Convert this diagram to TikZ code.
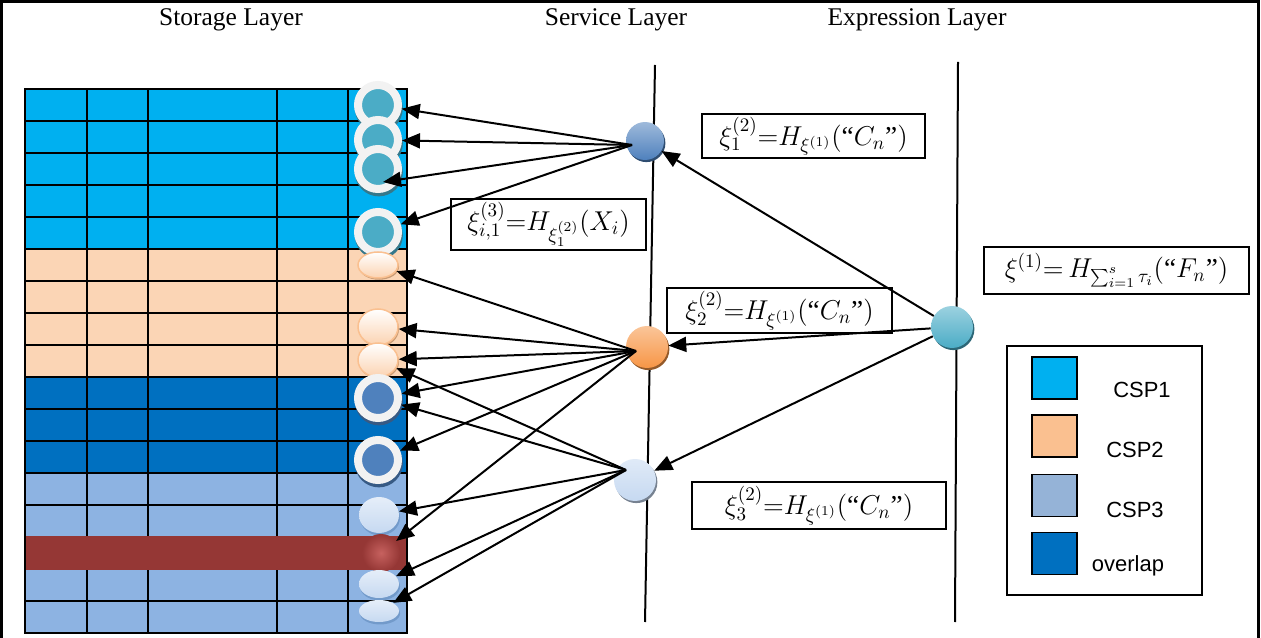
\documentclass[tikz,border=0pt]{standalone}
\usepackage{fix-cm}
\usepackage{fontspec}
\setmainfont{Liberation Serif}
\newfontfamily\legendfont{Liberation Sans}
\usetikzlibrary{arrows.meta,shapes.geometric,shadows,calc}

\definecolor{cspone}{HTML}{00B0F0}
\definecolor{csptwo}{HTML}{FBD5B5}
\definecolor{csptwokey}{HTML}{FAC090}
\definecolor{cspthree}{HTML}{8DB3E2}
\definecolor{cspthreekey}{HTML}{95B3D7}
\definecolor{overlap}{HTML}{0070C0}
\definecolor{redrow}{HTML}{953735}
\definecolor{ringwhite}{HTML}{F2F2F2}
\definecolor{tealball}{HTML}{4BACC6}
\definecolor{blueball}{HTML}{4F81BD}
\definecolor{paleball}{HTML}{C6D9F1}
\definecolor{orangeball}{HTML}{F79646}
\definecolor{redball}{HTML}{C0504D}

\tikzset{
  link/.style={line width=0.4mm, -{Triangle[length=3.6mm,width=3mm]}},
  layertitle/.style={font=\fontsize{14.5}{17}\selectfont},
  formula/.style={draw, line width=0.5mm, inner sep=0pt, font=\fontsize{15.5}{18}\selectfont},
  ringdisk/.style={circle, inner sep=0pt, minimum size=0.8cm, draw=ringwhite, line width=1.6mm, fill=#1,
    drop shadow={shadow xshift=0.4pt, shadow yshift=-1.6pt, shadow scale=1.2, fill=#1!70!black, opacity=1}},
  peach/.style={ellipse, inner sep=0pt, minimum width=0.8cm, draw=csptwokey, line width=0.3mm,
    top color=white, bottom color=csptwokey!70,
    drop shadow={shadow xshift=0.6pt, shadow yshift=-1pt, fill=csptwokey!80!black, opacity=1}},
  pale/.style={ellipse, inner sep=0pt, minimum width=0.8cm, top color=paleball!45!white, bottom color=paleball,
    drop shadow={shadow xshift=0.6pt, shadow yshift=-1.4pt, fill=blueball!80, opacity=1}},
  svc/.style={circle, inner sep=0pt, minimum size=0.84cm, top color=#1!55!white, bottom color=#1,
    drop shadow={shadow xshift=0.8pt, shadow yshift=-1.2pt, fill=#1!60!black, opacity=1}},
  keybox/.style={draw, line width=0.3mm, minimum width=0.9cm, minimum height=0.84cm, inner sep=0pt},
  keylabel/.style={font=\legendfont\fontsize{12.5}{15}\selectfont}
}

\begin{document}
\begin{tikzpicture}[x=0.02cm, y=-0.02cm]
	%%%%% START %%%%%
	\useasboundingbox (0,0) rectangle (1261,638);
	\fill[white] (0,0) rectangle (1261,638);
	
	\draw[line width=0.5mm] (1.5,638) -- (1.5,1.5) -- (1258.5,1.5) -- (1258.5,638);
	
	\node[layertitle] (st) at (231,20) {Storage Layer};
	\node[layertitle] (sv) at (616,20) {Service Layer};
	\node[layertitle] (ex) at (917,20) {Expression Layer};
	
	% storage blocks
	\fill[cspone] (25,89) rectangle (407,249);
	\fill[csptwo] (25,249) rectangle (407,377);
	\fill[overlap] (25,377) rectangle (407,473);
	\fill[cspthree] (25,473) rectangle (407,633);
	\draw[line width=0.4mm] (25,121) -- (407,121) (25,153) -- (407,153) (25,185) -- (407,185) (25,217) -- (407,217);
	\draw[line width=0.4mm] (25,249) -- (407,249) (25,281) -- (407,281) (25,313) -- (407,313) (25,345) -- (407,345);
	\draw[line width=0.4mm] (25,377) -- (407,377) (25,409) -- (407,409) (25,441) -- (407,441) (25,473) -- (407,473);
	\draw[line width=0.4mm] (25,505) -- (407,505) (25,537) -- (407,537) (25,569) -- (407,569) (25,601) -- (407,601);
	\draw[line width=0.4mm] (87,89) -- (87,633) (148,89) -- (148,633) (277,89) -- (277,633) (348,89) -- (348,633);
	\fill[redrow] (25,536) rectangle (407,570);
	\draw[line width=0.4mm] (25,89) rectangle (407,633);
	
	% layer lines
	\draw[line width=0.4mm] (655,65) -- (645,622);
	\draw[line width=0.4mm] (958,62) -- (955,622);
	
	% shares in the last column
	\node[ringdisk=tealball] (c1) at (378,105) {};
	\node[ringdisk=tealball] (c2) at (378,140) {};
	\node[ringdisk=tealball] (c3) at (378,169) {};
	\node[ringdisk=tealball] (c4) at (378,232) {};
	\node[peach, minimum height=0.52cm] (p1) at (378,265) {};
	\node[peach, minimum height=0.72cm] (p2) at (378,327) {};
	\node[peach, minimum height=0.68cm] (p3) at (378,360) {};
	\node[ringdisk=blueball] (d1) at (378,398) {};
	\node[ringdisk=blueball] (d2) at (378,460) {};
	\node[pale, minimum height=0.72cm] (l1) at (379,515) {};
	\node[circle, inner sep=0pt, minimum size=0.76cm, inner color=redball!90!white, outer color=redrow] (r1) at (381,553) {};
	\node[pale, minimum height=0.56cm] (l2) at (379,584) {};
	\node[pale, minimum height=0.44cm] (l3) at (379,611) {};
	\coordinate (c3tip) at ($(c3)+(5,13)$);
	
	% service and expression nodes
	\node[svc=blueball, minimum size=0.76cm] (n1) at (645,141) {};
	\node[svc=orangeball] (n2) at (647,347) {};
	\node[svc=paleball] (n3) at (635,480) {};
	\node[svc=tealball] (ee) at (952,327) {};
	\coordinate (o1) at (632,145);
	\coordinate (o2) at (636,351);
	\coordinate (o3) at (626,470);
	
	% formulas
	\node[formula, minimum width=4.46cm, minimum height=0.88cm] (f1) at (813.5,136)
		{$\xi_1^{(2)}{=}H_{\xi^{(1)}}(\mbox{``}C_n\mbox{''})$};
	\node[formula, minimum width=3.9cm, minimum height=1.02cm] (ft) at (548.5,224.5)
		{$\xi_{i,1}^{(3)}{=}H_{\xi_1^{(2)}}(X_i)$};
	\node[formula, minimum width=4.5cm, minimum height=0.9cm] (f2) at (779.5,310.5)
		{$\xi_2^{(2)}{=}H_{\xi^{(1)}}(\mbox{``}C_n\mbox{''})$};
	\node[formula, minimum width=5.08cm, minimum height=0.94cm] (f3) at (819,505.5)
		{$\xi_3^{(2)}{=}H_{\xi^{(1)}}(\mbox{``}C_n\mbox{''})$};
	\node[formula, minimum width=5.3cm, minimum height=0.94cm] (fx) at (1116.5,270.5)
		{$\xi^{(1)}{=}\,H_{\sum_{i=1}^{s}\tau_i}(\mbox{``}F_n\mbox{''})$};
	
	% legend
	\node[draw, line width=0.3mm, minimum width=3.9cm, minimum height=4.98cm] (key) at (1104.5,470.5) {};
	\node[keybox, fill=cspone] (k1) at (1054.5,378) {};
	\node[keybox, fill=csptwokey] (k2) at (1054.5,436) {};
	\node[keybox, fill=cspthreekey] (k3) at (1054.5,495.5) {};
	\node[keybox, fill=overlap] (k4) at (1054.5,553.5) {};
	\node[keylabel] (t1) at (1142,390) {CSP1};
	\node[keylabel] (t2) at (1135,450) {CSP2};
	\node[keylabel] (t3) at (1135,510) {CSP3};
	\node[keylabel] (t4) at (1128,566) {overlap};
	
	% arrows
	\draw[link] (o1) -- (c1);
	\draw[link] (o1) -- (c2);
	\draw[link] (o1) -- (c3tip);
	\draw[link] (o1) -- (c4);
	
	\draw[link] (o2) -- (p1);
	\draw[link] (o2) -- (p2);
	\draw[link] (o2) -- (p3);
	\draw[link] (o2) -- (d1);
	\draw[link] (o2) -- (d2);
	\draw[link] (o2) -- (r1);
	
	\draw[link] (o3) -- (p3);
	\draw[link] (o3) -- (d1);
	\draw[link] (o3) -- (l1);
	\draw[link] (o3) -- (l2);
	\draw[link] (o3) -- (l3);
	
	\draw[link] (ee) -- (n1);
	\draw[link] (ee) -- (n2);
	\draw[link] (ee) -- (n3);
	%%%%% END %%%%%
\end{tikzpicture}
\end{document}
